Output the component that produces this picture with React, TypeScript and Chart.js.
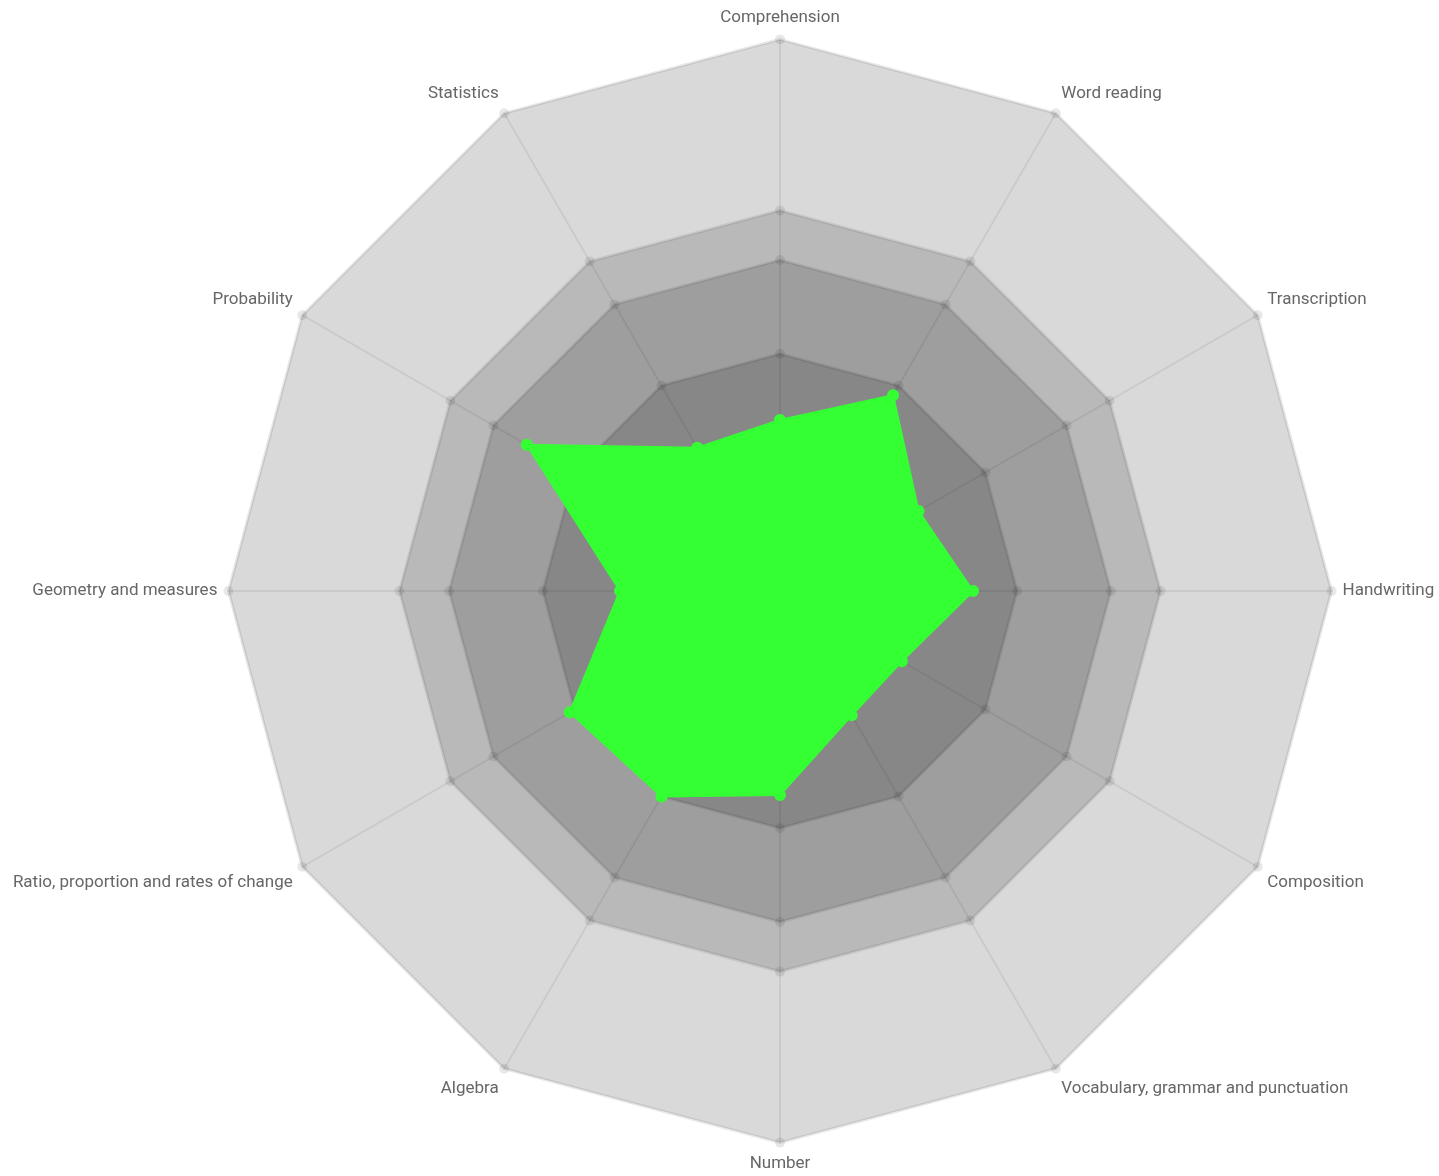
import React, { useEffect, useRef } from "react";
import { Chart, registerables } from "chart.js";

Chart.register(...registerables);

const categories = [
  "Comprehension",
  "Word reading",
  "Transcription",
  "Handwriting",
  "Composition",
  "Vocabulary, grammar and punctuation",
  "Number",
  "Algebra",
  "Ratio, proportion and rates of change",
  "Geometry and measures",
  "Probability",
  "Statistics",
];

const scoreValues = [31, 41, 29, 35, 25.5, 26, 37, 43, 44, 29, 53, 30];
const band1Values = [43, 43, 43, 43, 43, 43, 43, 43, 43, 43, 43, 43];
const band2Values = [60, 60, 60, 60, 60, 60, 60, 60, 60, 60, 60, 60];
const band3Values = [69, 69, 69, 69, 69, 69, 69, 69, 69, 69, 69, 69];
const band4Values = [100, 100, 100, 100, 100, 100, 100, 100, 100, 100, 100, 100];

const bandDataset = (data: number[], order: number) => ({
  data,
  order,
  fill: true,
  backgroundColor: "rgba(0,0,0,0.15)",
  borderColor: "rgba(0,0,0,0.09)",
  borderWidth: 3,
  pointRadius: 5,
  pointBackgroundColor: "rgba(0,0,0,0.09)",
  pointBorderColor: "rgba(0,0,0,0)",
  pointBorderWidth: 0,
});

export default function App() {
  const ref = useRef<HTMLCanvasElement>(null);
  useEffect(() => {
    if (!ref.current) return;
    const chart = new Chart(ref.current, {
      type: "radar",
      data: {
        labels: categories,
        datasets: [
          {
            data: scoreValues,
            order: 0,
            fill: true,
            backgroundColor: "#33ff33",
            borderColor: "#33ff33",
            borderWidth: 2,
            pointRadius: 5,
            pointBackgroundColor: "#33ff33",
            pointBorderColor: "#33ff33",
          },
          bandDataset(band1Values, 1),
          bandDataset(band2Values, 2),
          bandDataset(band3Values, 3),
          bandDataset(band4Values, 4),
        ],
      },
      options: {
        animation: false,
        responsive: true,
        maintainAspectRatio: false,
        plugins: { legend: { display: false }, tooltip: { enabled: false } },
        scales: {
          r: {
            min: 0,
            max: 100,
            ticks: { display: false },
            grid: { display: false },
            angleLines: { color: "rgba(0,0,0,0.07)", lineWidth: 2 },
            pointLabels: {
              color: "#666",
              padding: 11,
              font: { family: "Roboto", size: 17 },
            },
          },
        },
      },
    });
    return () => chart.destroy();
  }, []);
  return (
    <div style={{ position: "fixed", left: -30, top: 9, width: 1620, height: 1166 }}>
      <canvas ref={ref} />
    </div>
  );
}
